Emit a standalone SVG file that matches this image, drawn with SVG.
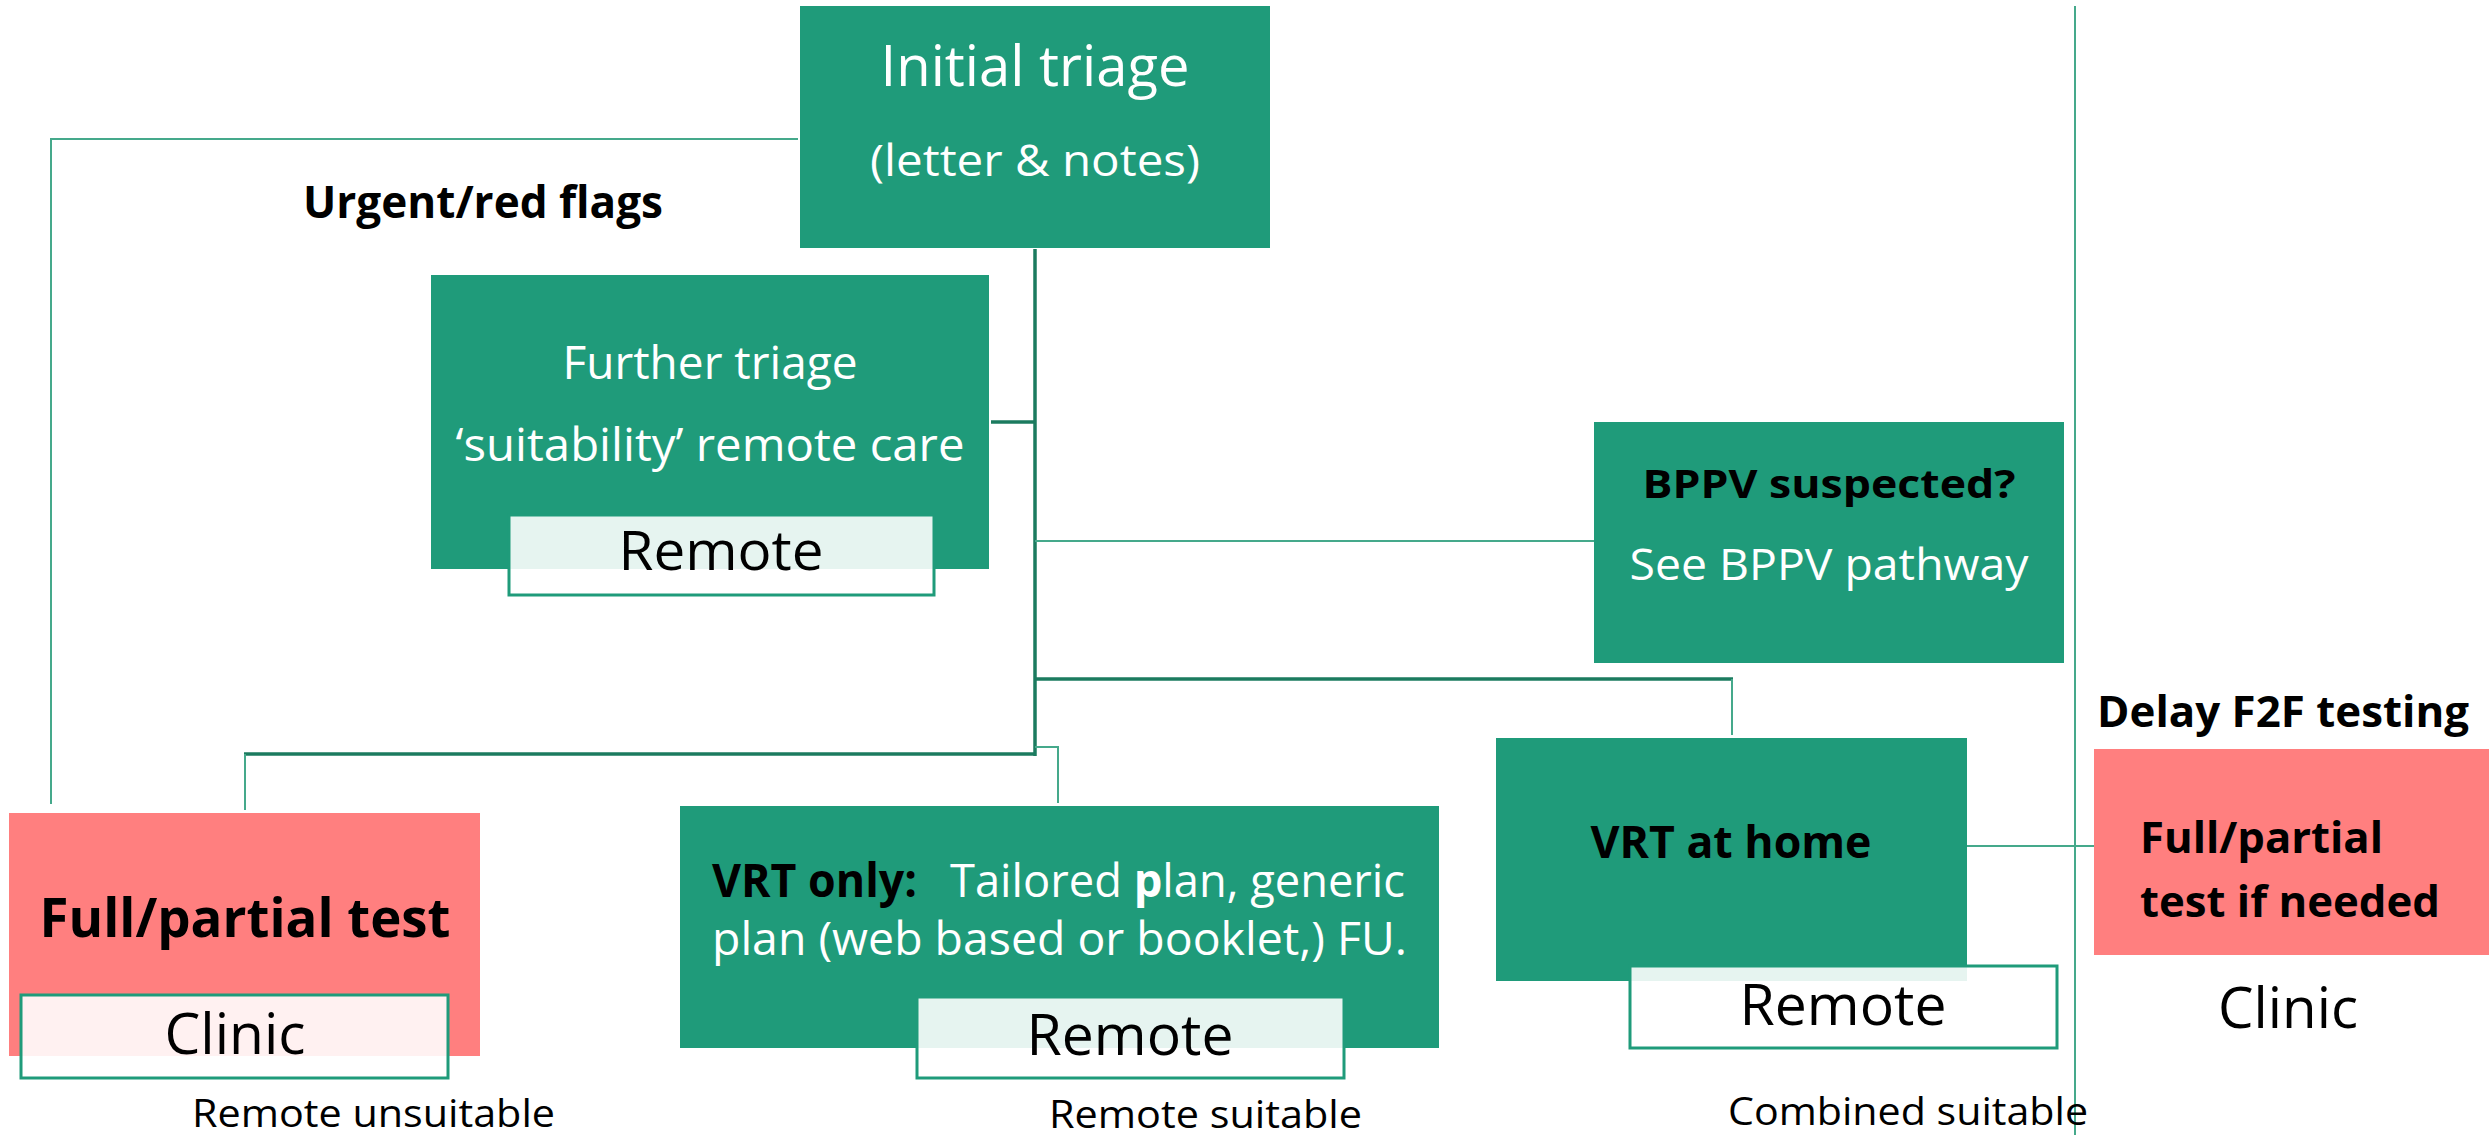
<svg xmlns="http://www.w3.org/2000/svg" width="2489" height="1135" viewBox="0 0 2489 1135">
  <style>
    .green { fill: #1f9b7a; }
    .red { fill: #ff7f7f; }
    .tag { fill: #ffffff; fill-opacity: 0.89; stroke: #1f9b7a; stroke-width: 3; }
    .ln { fill: none; stroke: #45a98b; stroke-width: 2; }
    .lnd { fill: none; stroke: #1b7b5f; stroke-width: 3.5; }
    text { font-family: "Open Sans", "Liberation Sans", sans-serif; }
    .w { fill: #ffffff; }
    .k { fill: #000000; }
    .b { font-weight: bold; }
    .c { text-anchor: middle; }
  </style>

  <!-- connectors -->
  <g id="connectors">
    <polyline class="ln" points="798,139 51,139 51,804"/>
    <line class="lnd" x1="1035" y1="249" x2="1035" y2="756"/>
    <line class="lnd" x1="991" y1="422" x2="1035" y2="422"/>
    <line class="ln" x1="1035" y1="541" x2="1594" y2="541"/>
    <line class="lnd" x1="1035" y1="679" x2="1733" y2="679"/>
    <line class="ln" x1="1732" y1="679" x2="1732" y2="735"/>
    <line class="lnd" x1="1035" y1="754" x2="244" y2="754"/>
    <line class="ln" x1="245" y1="754" x2="245" y2="810"/>
    <polyline class="ln" points="1035,747 1058,747 1058,803"/>
    <line class="ln" x1="2075" y1="6" x2="2075" y2="1135"/>
    <line class="ln" x1="1967" y1="846" x2="2094" y2="846"/>
  </g>

  <!-- initial triage -->
  <g id="initial-triage">
    <rect class="green" x="800" y="6" width="470" height="242"/>
    <text class="w c" x="1035" y="86" font-size="56" textLength="309" lengthAdjust="spacingAndGlyphs">Initial triage</text>
    <text class="w c" x="1035" y="176" font-size="44" textLength="330" lengthAdjust="spacingAndGlyphs">(letter &amp; notes)</text>
  </g>

  <g id="urgent-label">
    <text class="k b" x="303" y="218" font-size="44" textLength="360" lengthAdjust="spacingAndGlyphs">Urgent/red flags</text>
  </g>

  <!-- further triage -->
  <g id="further-triage">
    <rect class="green" x="431" y="275" width="558" height="294"/>
    <text class="w c" x="710" y="379" font-size="45" textLength="295" lengthAdjust="spacingAndGlyphs">Further triage</text>
    <text class="w c" x="710" y="461" font-size="45" textLength="509" lengthAdjust="spacingAndGlyphs">‘suitability’ remote care</text>
    <rect class="tag" x="509" y="515" width="425" height="80"/>
    <text class="k c" x="721" y="570" font-size="55" textLength="205" lengthAdjust="spacingAndGlyphs">Remote</text>
  </g>

  <!-- BPPV -->
  <g id="bppv">
    <rect class="green" x="1594" y="422" width="470" height="241"/>
    <text class="k b c" x="1829" y="498" font-size="39" textLength="373" lengthAdjust="spacingAndGlyphs">BPPV suspected?</text>
    <text class="w c" x="1829" y="580" font-size="43" textLength="399" lengthAdjust="spacingAndGlyphs">See BPPV pathway</text>
  </g>

  <!-- full/partial test (remote unsuitable) -->
  <g id="full-partial-test">
    <rect class="red" x="9" y="813" width="471" height="243"/>
    <text class="k b c" x="245" y="937" font-size="53" textLength="411" lengthAdjust="spacingAndGlyphs">Full/partial test</text>
    <rect class="tag" x="21" y="995" width="427" height="83"/>
    <text class="k c" x="235" y="1054" font-size="56" textLength="141" lengthAdjust="spacingAndGlyphs">Clinic</text>
    <text class="k" x="192" y="1127" font-size="38" textLength="363" lengthAdjust="spacingAndGlyphs">Remote unsuitable</text>
  </g>

  <!-- VRT only (remote suitable) -->
  <g id="vrt-only">
    <rect class="green" x="680" y="806" width="759" height="242"/>
    <text class="k b" x="712" y="897" font-size="46" textLength="205" lengthAdjust="spacingAndGlyphs">VRT only:</text>
    <text class="w" x="950" y="897" font-size="46" textLength="455" lengthAdjust="spacingAndGlyphs">Tailored <tspan class="b">p</tspan>lan, generic</text>
    <text class="w" x="712" y="955" font-size="46" textLength="695" lengthAdjust="spacingAndGlyphs">plan (web based or booklet,) FU.</text>
    <rect class="tag" x="917" y="997" width="427" height="81"/>
    <text class="k c" x="1130" y="1055" font-size="56" textLength="207" lengthAdjust="spacingAndGlyphs">Remote</text>
    <text class="k" x="1049" y="1128" font-size="38" textLength="313" lengthAdjust="spacingAndGlyphs">Remote suitable</text>
  </g>

  <!-- VRT at home (combined suitable) -->
  <g id="vrt-home">
    <rect class="green" x="1496" y="738" width="471" height="243"/>
    <text class="k b c" x="1731" y="858" font-size="45" textLength="281" lengthAdjust="spacingAndGlyphs">VRT at home</text>
    <rect class="tag" x="1630" y="966" width="427" height="82"/>
    <text class="k c" x="1843" y="1025" font-size="56" textLength="207" lengthAdjust="spacingAndGlyphs">Remote</text>
    <text class="k" x="1728" y="1125" font-size="38" textLength="360" lengthAdjust="spacingAndGlyphs">Combined suitable</text>
  </g>

  <!-- delayed face-to-face testing -->
  <g id="delay-f2f">
    <text class="k b" x="2097" y="727" font-size="43" textLength="372" lengthAdjust="spacingAndGlyphs">Delay F2F testing</text>
    <rect class="red" x="2094" y="749" width="395" height="206"/>
    <text class="k b" x="2140" y="853" font-size="43" textLength="243" lengthAdjust="spacingAndGlyphs">Full/partial</text>
    <text class="k b" x="2140" y="917" font-size="43" textLength="300" lengthAdjust="spacingAndGlyphs">test if needed</text>
    <text class="k c" x="2288" y="1028" font-size="56" textLength="140" lengthAdjust="spacingAndGlyphs">Clinic</text>
  </g>
</svg>
